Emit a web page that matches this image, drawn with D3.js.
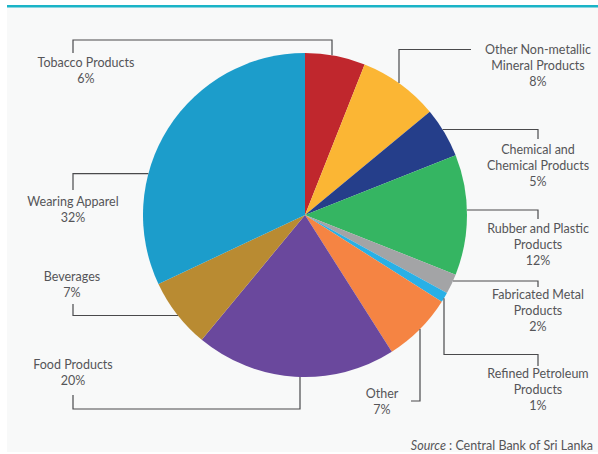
<!DOCTYPE html>
<html>
<head>
<meta charset="utf-8">
<script src="https://cdn.jsdelivr.net/npm/d3@7"></script>
<style>
  html, body { margin: 0; padding: 0; background: #ffffff; }
  svg { display: block; }
  text { font-family: Lato, "Open Sans", sans-serif; fill: #555558; }
</style>
</head>
<body>
<svg id="chart" width="598" height="454"></svg>
<script>
// Manufacturing sectors, share of output (%)
const categories = [
  "Tobacco Products",
  "Other Non-metallic Mineral Products",
  "Chemical and Chemical Products",
  "Rubber and Plastic Products",
  "Fabricated Metal Products",
  "Refined Petroleum Products",
  "Other",
  "Food Products",
  "Beverages",
  "Wearing Apparel"
];
const shares = [6, 8, 5, 12, 2, 1, 7, 20, 7, 32];
const labelLines = [
  ["Tobacco Products"],
  ["Other Non-metallic", "Mineral Products"],
  ["Chemical and", "Chemical Products"],
  ["Rubber and Plastic", "Products"],
  ["Fabricated Metal", "Products"],
  ["Refined Petroleum", "Products"],
  ["Other"],
  ["Food Products"],
  ["Beverages"],
  ["Wearing Apparel"]
];
const colors = [
  "#c0272d", "#fbb634", "#253e8a", "#35b562", "#a3a4a6",
  "#29b0e6", "#f58443", "#6a489d", "#b98b32", "#1c9dcb"
];
const sourceNote = ["Source", " : Central Bank of Sri Lanka"];

// Label placement: text anchor point, elbow points of the leader line,
// and which axis the last segment travels along to meet the rim.
const layout = [
  { tx: 86,  ty: 63,  pts: [[73, 53], [73, 40], [332, 40]],            end: "v" },
  { tx: 538, ty: 50,  pts: [[471, 49.5], [399, 49.5]],                  end: "v" },
  { tx: 538, ty: 150, pts: [[538, 139], [538, 129.5]],                  end: "h" },
  { tx: 538, ty: 229, pts: [[538, 219], [538, 210]],                    end: "h" },
  { tx: 538, ty: 295, pts: [[538, 287], [538, 281]],                    end: "h" },
  { tx: 538, ty: 374, pts: [[538, 366], [538, 354.5], [444, 354.5]],    end: "v" },
  { tx: 382, ty: 394, pts: [[411, 401], [420, 401]],                    end: "v" },
  { tx: 73,  ty: 365, pts: [[73, 395], [73, 409], [300, 409]],          end: "v" },
  { tx: 72,  ty: 277, pts: [[73, 304], [73, 315.5]],                    end: "h" },
  { tx: 73,  ty: 202, pts: [[73, 190], [73, 173.7]],                    end: "h" }
];

const W = 598, H = 454;
const cx = 305, cy = 215, R = 162;
const lineGap = 16;

const svg = d3.select("#chart");

// panel background with teal top rule
svg.append("rect").attr("x", 7).attr("y", 6).attr("width", W - 7).attr("height", 446)
  .attr("fill", "#f8f9f9");
svg.append("rect").attr("x", 7).attr("y", 5).attr("width", W - 7).attr("height", 2.5)
  .attr("fill", "#1ab4c7");

const pie = d3.pie().sort(null).value(d => d).startAngle(0).endAngle(2 * Math.PI);
const arcs = pie(shares);
const arc = d3.arc().innerRadius(0).outerRadius(R);

const g = svg.append("g").attr("transform", `translate(${cx},${cy})`);
g.selectAll("path.slice").data(arcs).join("path")
  .attr("class", "slice")
  .attr("d", arc)
  .attr("fill", (d, i) => colors[i]);

// leader lines: finish each polyline on the pie rim
const line = d3.line();
layout.forEach((L, i) => {
  const a = arcs[i];
  const mid = (a.startAngle + a.endAngle) / 2;
  const last = L.pts[L.pts.length - 1];
  let endPt;
  if (L.end === "v") {
    const dx = last[0] - cx;
    const dy = Math.sqrt(R * R - dx * dx);
    const down = Math.cos(mid) < 0; // slice mid below centre
    endPt = [last[0], down ? cy + dy : cy - dy];
  } else {
    const dy = last[1] - cy;
    const dx = Math.sqrt(R * R - dy * dy);
    const right = Math.sin(mid) > 0;
    endPt = [right ? cx + dx : cx - dx, last[1]];
  }
  svg.append("path")
    .attr("d", line([...L.pts, endPt]))
    .attr("fill", "none")
    .attr("stroke", "#4a4a4c")
    .attr("stroke-width", 1.2);

  const t = svg.append("text")
    .attr("text-anchor", "middle")
    .attr("font-size", 12.5);
  const rows = [...labelLines[i], shares[i] + "%"];
  rows.forEach((r, k) => {
    t.append("tspan")
      .attr("x", L.tx)
      .attr("y", L.ty + k * lineGap)
      .attr("dy", "0.35em")
      .text(r);
  });
});

// source note
const src = svg.append("text")
  .attr("x", 593).attr("y", 446).attr("dy", "0.35em")
  .attr("text-anchor", "end")
  .attr("font-size", 12.5);
src.append("tspan").attr("font-style", "italic").text(sourceNote[0]);
src.append("tspan").text(sourceNote[1]);
</script>
</body>
</html>
